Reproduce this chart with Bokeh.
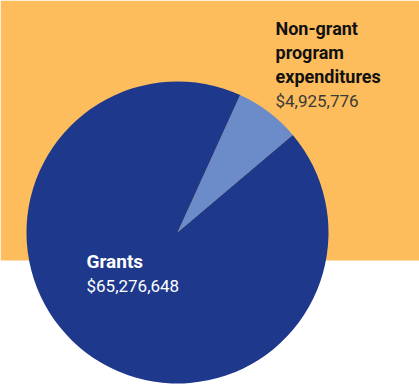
import math
from bokeh.plotting import figure
from bokeh.models import Range1d, ColumnDataSource
from bokeh.core.properties import value
from bokeh.embed import file_html
from bokeh.resources import INLINE

# Data
categories = ["Non-grant program expenditures", "Grants"]
amounts = [4925776, 65276648]
value_labels = ["$4,925,776", "$65,276,648"]
colors = ["#6B8CC8", "#1E388C"]

W, H = 419, 384
p = figure(width=W, height=H, output_backend="svg", toolbar_location=None,
           x_range=Range1d(0, W), y_range=Range1d(H, 0), min_border=0)
p.axis.visible = False
p.grid.visible = False
p.outline_line_color = None
p.background_fill_color = "white"
p.border_fill_color = "white"

# orange band
p.quad(left=0, right=W, top=0, bottom=260, fill_color="#FDBD5C", line_color=None)

# wedges (clockwise from start angle measured from top)
total = sum(amounts)
start_deg = 24.5  # clockwise from 12 o'clock
starts, ends = [], []
acc = start_deg
for a in amounts:
    span = a / total * 360.0
    starts.append(math.radians(90 - acc))
    ends.append(math.radians(90 - acc - span))
    acc += span
src = ColumnDataSource(dict(start=starts, end=ends, color=colors))
p.wedge(x=177, y=232, radius=151, start_angle="start", end_angle="end",
        direction="clock", fill_color="color", line_color=None, source=src)

font = value("Roboto")
# non-grant label
ng_lines = ["Non-grant", "program", "expenditures"]
p.text(x=[275] * 3, y=[28, 52, 76], text=ng_lines, text_font=font,
       text_font_style="bold", text_font_size="18px", text_color="#111111",
       text_baseline="alphabetic")
p.text(x=[275], y=[100], text=[value_labels[0]], text_font=font,
       text_font_size="17px", text_color="#3a3a3a", text_baseline="alphabetic")

# grants label
p.text(x=[86], y=[261], text=[categories[1]], text_font=font,
       text_font_style="bold", text_font_size="19px", text_color="white",
       text_baseline="alphabetic")
p.text(x=[86], y=[285], text=[value_labels[1]], text_font=font,
       text_font_size="17px", text_color="white", text_baseline="alphabetic")

open("out.html", "w").write(file_html(p, INLINE))
